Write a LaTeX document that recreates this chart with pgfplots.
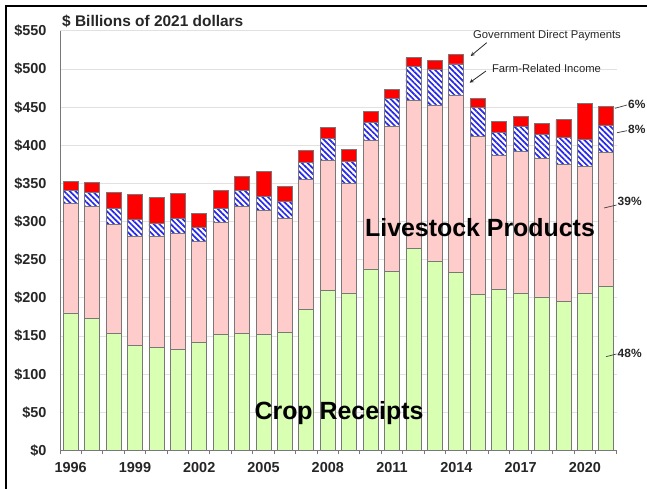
\documentclass[border=0pt]{standalone}
\usepackage{fontspec}
\setmainfont{Liberation Sans}
\usepackage{pgfplots}
\usepackage{pgfplotstable}
\pgfplotsset{compat=1.18}
\usetikzlibrary{patterns.meta}
\definecolor{cropg}{RGB}{216,255,178}
\definecolor{livep}{RGB}{255,204,204}
\definecolor{govr}{RGB}{255,0,0}
\definecolor{hatchb}{RGB}{40,40,235}
\definecolor{bargray}{RGB}{120,120,120}
\definecolor{gridg}{RGB}{225,225,225}
\pgfplotstableread{
year crop live farm gov
1996 180.4 143.6 17.0 11.7
1997 173.0 147.4 18.4 12.2
1998 153.8 143.1 20.9 20.2
1999 137.7 142.7 22.6 32.3
2000 134.6 145.8 17.4 33.6
2001 132.9 152.1 18.9 32.7
2002 141.6 133.0 17.9 18.0
2003 152.0 146.7 19.1 23.6
2004 153.8 166.2 21.0 17.9
2005 151.6 163.6 17.9 32.7
2006 155.0 149.7 21.5 20.4
2007 185.2 170.2 22.2 15.3
2008 210.0 169.8 29.2 14.8
2009 206.6 143.9 28.0 15.7
2010 238.0 168.0 24.0 14.8
2011 234.5 190.6 36.3 12.2
2012 264.6 194.2 44.9 11.3
2013 248.5 204.6 46.2 12.2
2014 233.0 233.2 40.6 12.1
2015 204.8 206.4 38.0 11.8
2016 211.4 175.4 29.7 14.4
2017 206.6 185.4 33.1 12.7
2018 201.3 181.9 30.7 14.4
2019 196.0 179.0 35.3 23.2
2020 206.6 166.2 35.3 47.1
2021 215.3 175.0 36.1 24.8
}\data
\begin{document}
\begin{tikzpicture}
\useasboundingbox (0bp,0bp) rectangle (647bp,489bp);
\begin{axis}[
  at={(60bp,38.5bp)}, anchor=south west,
  scale only axis, width=557bp, height=419.5bp,
  ybar stacked, bar width=15bp,
  xmin=1995.5, xmax=2021.5, ymin=0, ymax=550,
  axis lines=left, axis line style={-, draw=bargray, line width=1bp},
  xtick={1995.5,1996.5,...,2021.5}, xticklabels={},
  extra x ticks={1996,1999,2002,2005,2008,2011,2014,2017,2020},
  extra x tick labels={1996,1999,2002,2005,2008,2011,2014,2017,2020},
  extra x tick style={major tick length=0pt, grid=none},
  tick align=outside, major tick length=4bp,
  xtick style={draw=bargray, line width=1bp},
  ytick={0,50,...,550},
  yticklabels={\$0,\$50,\$100,\$150,\$200,\$250,\$300,\$350,\$400,\$450,\$500,\$550},
  ytick style={draw=none},
  ymajorgrids, grid style={draw=gridg, line width=1bp},
  /pgf/number format/assume math mode=true,
  tick label style={font=\fontsize{14.5}{16}\selectfont\bfseries, text=black!85},
  yticklabel style={xshift=-6bp},
  xticklabel style={yshift=-8bp},
  clip=false,
]
\addplot[fill=cropg, draw=bargray, line width=0.8bp] table[x=year,y=crop]{\data};
\addplot[fill=livep, draw=bargray, line width=0.8bp] table[x=year,y=live]{\data};
\addplot[fill=white, draw=bargray, line width=0.8bp,
  postaction={pattern={Lines[angle=-45,distance=4bp,line width=1.7bp]}, pattern color=hatchb}] table[x=year,y=farm]{\data};
\addplot[fill=govr, draw=bargray, line width=0.8bp] table[x=year,y=gov]{\data};
\end{axis}
% frame
\draw[line width=2bp, black] (5.5bp,0bp) -- (5.5bp,483bp) -- (660bp,483bp);
% title
\node[anchor=west, font=\fontsize{15.5}{17}\selectfont\bfseries, text=black!85, inner sep=0pt] at (62bp,467.3bp) {\$ Billions of 2021 dollars};
% annotations
\node[font=\fontsize{11.3}{13}\selectfont, text=black!85, inner sep=0pt] at (547bp,453bp) {Government Direct Payments};
\node[font=\fontsize{11.3}{13}\selectfont, text=black!85, inner sep=0pt] at (546.5bp,420.7bp) {Farm-Related Income};
\draw[-stealth, black!85, line width=0.8bp] (486.7bp,446.3bp) -- (470.7bp,433bp);
\draw[-stealth, black!85, line width=0.8bp] (486bp,418bp) -- (469.7bp,406.3bp);
% percentages
\draw[black!75, line width=0.7bp] (615bp,380.7bp) -- (627bp,384bp);
\node[anchor=west, font=\fontsize{12}{14}\selectfont\bfseries, text=black!85, inner sep=0pt] at (628bp,385bp) {6\%};
\draw[black!75, line width=0.7bp] (617bp,356.3bp) -- (627bp,358.3bp);
\node[anchor=west, font=\fontsize{12}{14}\selectfont\bfseries, text=black!85, inner sep=0pt] at (628bp,360bp) {8\%};
\draw[black!75, line width=0.7bp] (604bp,281bp) -- (616.5bp,284bp);
\node[anchor=west, font=\fontsize{12}{14}\selectfont\bfseries, text=black!85, inner sep=0pt] at (617.5bp,288bp) {39\%};
\draw[black!75, line width=0.7bp] (606bp,132.3bp) -- (616.5bp,135bp);
\node[anchor=west, font=\fontsize{12}{14}\selectfont\bfseries, text=black!85, inner sep=0pt] at (617.5bp,136bp) {48\%};
% big labels
\node[font=\fontsize{25}{28}\selectfont\bfseries, text=black, inner sep=0pt] at (480bp,261.3bp) {Livestock Products};
\node[font=\fontsize{25}{28}\selectfont\bfseries, text=black, inner sep=0pt] at (339bp,76bp) {Crop Receipts};
\end{tikzpicture}
\end{document}
